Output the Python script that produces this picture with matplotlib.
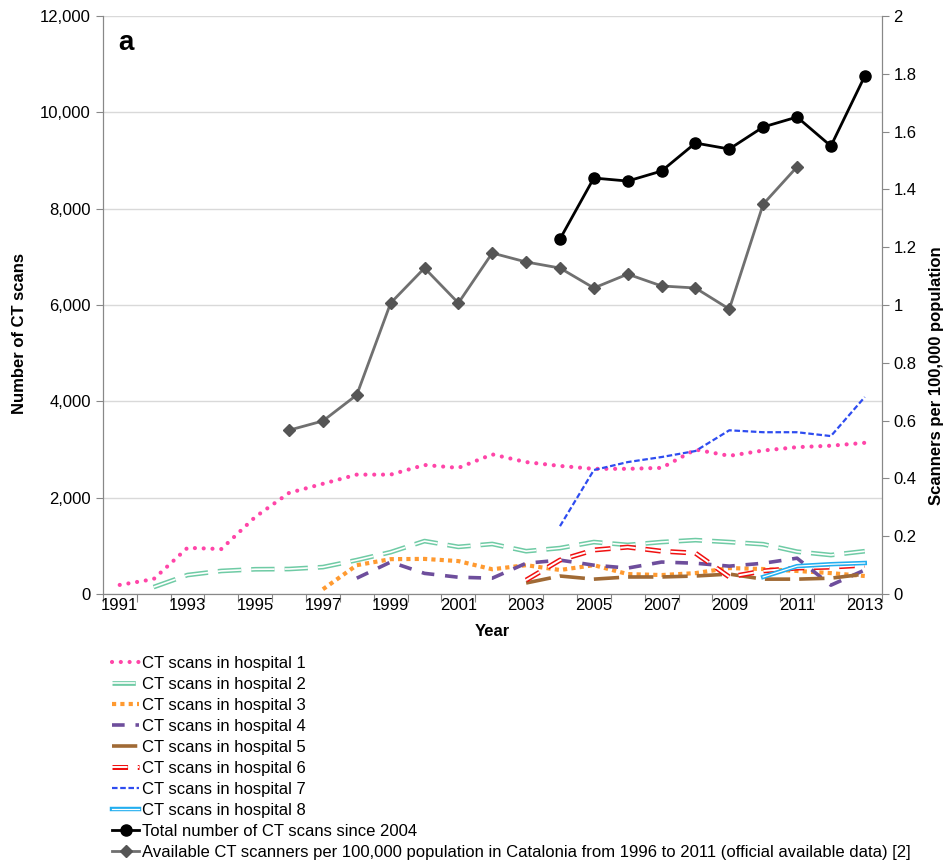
import numpy as np
import matplotlib
matplotlib.use("Agg")
import matplotlib.pyplot as plt
import matplotlib.patheffects as pe
from matplotlib.ticker import FuncFormatter, FixedLocator

plt.rcParams['font.family'] = ['Liberation Sans', 'DejaVu Sans']

# data
years_h1 = list(range(1991, 2014))
h1 = [190, 310, 960, 935, 1600, 2100, 2290, 2480, 2480, 2680, 2620, 2900, 2740,
      2660, 2600, 2600, 2620, 3000, 2870, 2980, 3050, 3080, 3140]
years_h2 = list(range(1992, 2014))
h2 = [145, 395, 480, 515, 520, 560, 705, 870, 1100, 980, 1040, 890,
      955, 1080, 1020, 1080, 1120, 1080, 1035, 880, 810, 890]
years_h3 = list(range(1997, 2014))
h3 = [100, 600, 725, 730, 685, 515, 600, 500, 600, 415, 395, 435, 540, 520, 480, 435, 375]
years_h4 = list(range(1998, 2014))
h4 = [330, 665, 430, 350, 330, 640, 705, 600, 540, 665, 640, 580, 640, 745, 185, 500]
years_h5 = list(range(2003, 2014))
h5 = [230, 375, 310, 355, 355, 375, 415, 310, 310, 330, 415]
years_h6 = list(range(2003, 2014))
h6 = [290, 705, 915, 975, 890, 850, 355, 480, 540, 560, 600]
years_h7 = list(range(2004, 2014))
h7 = [1410, 2575, 2740, 2845, 2970, 3400, 3360, 3360, 3280, 4090]
years_h8 = list(range(2010, 2014))
h8 = [355, 580, 620, 645]
years_total = list(range(2004, 2014))
total = [7370, 8637, 8574, 8782, 9363, 9239, 9696, 9903, 9301, 10754]
years_scan = list(range(1996, 2012))
scanners = [0.567, 0.599, 0.689, 1.007, 1.128, 1.007, 1.18, 1.149, 1.128,
            1.059, 1.107, 1.066, 1.059, 0.986, 1.349, 1.478]

fig = plt.figure(figsize=(9.43, 8.66), dpi=100)
ax = fig.add_axes([0.109, 0.314, 0.826, 0.6675])
ax2 = ax.twinx()

handles = []
l, = ax.plot(years_h1, h1, color='#FF45A8', lw=3, linestyle=(0, (0.01, 2.1)),
             dash_capstyle='round', label='CT scans in hospital 1')
handles.append(l)
l, = ax.plot(years_h2, h2, color='white', lw=1.2, linestyle=(0, (14, 6)),
             path_effects=[pe.Stroke(linewidth=3.4, foreground='#6FCBA5'), pe.Normal()],
             label='CT scans in hospital 2')
handles.append(l)
l, = ax.plot(years_h3, h3, color='#FF9A30', lw=3, linestyle=(0, (1, 1)),
             label='CT scans in hospital 3')
handles.append(l)
l, = ax.plot(years_h4, h4, color='#6E4E9C', lw=2.6, linestyle=(0, (3.5, 3)),
             label='CT scans in hospital 4')
handles.append(l)
l, = ax.plot(years_h5, h5, color='#A06A35', lw=2.6, linestyle=(0, (7, 2.5)),
             label='CT scans in hospital 5')
handles.append(l)
l, = ax.plot(years_h6, h6, color='white', lw=1.4, linestyle=(0, (8, 5)),
             path_effects=[pe.Stroke(linewidth=3.6, foreground='#F01010'), pe.Normal()],
             label='CT scans in hospital 6')
handles.append(l)
l, = ax.plot(years_h7, h7, color='#2E4CF0', lw=1.6, linestyle=(0, (2.5, 1.2)),
             label='CT scans in hospital 7')
handles.append(l)
l, = ax.plot(years_h8, h8, color='white', lw=0.9, linestyle='-',
             path_effects=[pe.Stroke(linewidth=3.2, foreground='#22AEEF'), pe.Normal()],
             label='CT scans in hospital 8')
handles.append(l)
l, = ax.plot(years_total, total, color='black', lw=2, marker='o', markersize=8,
             label='Total number of CT scans since 2004')
handles.append(l)
l, = ax2.plot(years_scan, scanners, color='#707070', lw=2, marker='D', markersize=6,
              markerfacecolor='#555555', markeredgecolor='#555555',
              label='Available CT scanners per 100,000 population in Catalonia from 1996 to 2011 (official available data) [2]')
handles.append(l)

ax.set_xlim(1990.5, 2013.5)
ax.set_ylim(0, 12000)
ax2.set_ylim(0, 2)
ax.set_yticks(np.arange(0, 12001, 2000))
ax.yaxis.set_major_formatter(FuncFormatter(lambda v, p: f'{int(v):,}'))
ax2.set_yticks(np.arange(0, 2.01, 0.2))
ax2.yaxis.set_major_formatter(FuncFormatter(lambda v, p: f'{v:.1f}'.rstrip('0').rstrip('.')))
ax.grid(axis='y', color='#d9d9d9', lw=1)
ax.set_axisbelow(True)

ax.xaxis.set_major_locator(FixedLocator(np.arange(1990.5, 2014, 1)))
ax.xaxis.set_minor_locator(FixedLocator(np.arange(1991, 2014, 2)))
ax.xaxis.set_major_formatter(FuncFormatter(lambda v, p: ''))
ax.xaxis.set_minor_formatter(FuncFormatter(lambda v, p: str(int(round(v)))))
ax.tick_params(axis='x', which='major', length=6, color='#888888', direction='out')
ax.tick_params(axis='x', which='minor', length=0, labelsize=12, pad=3)
ax.tick_params(axis='y', length=5, color='#888888', labelsize=12)
ax2.tick_params(axis='y', length=5, color='#888888', labelsize=12)

for a in (ax, ax2):
    a.spines['top'].set_visible(False)
    for s in ('left', 'right', 'bottom'):
        a.spines[s].set_color('#888888')

ax.set_xlabel('Year', fontsize=12, fontweight='bold', labelpad=8)
ax.set_ylabel('Number of CT scans', fontsize=12, fontweight='bold')
ax.yaxis.set_label_coords(-0.097, 0.45)
ax2.set_ylabel('Scanners per 100,000 population', fontsize=12, fontweight='bold')
ax2.yaxis.set_label_coords(1.061, 0.377)
ax.text(0.02, 0.975, 'a', transform=ax.transAxes, fontsize=20, fontweight='bold',
        va='top', ha='left')

fig.legend(handles=handles, loc='upper left', bbox_to_anchor=(0.112, 0.25),
           frameon=False, fontsize=12, handlelength=1.6, handletextpad=0.2,
           labelspacing=0.36, borderaxespad=0)

fig.savefig('out.png', dpi=100)
